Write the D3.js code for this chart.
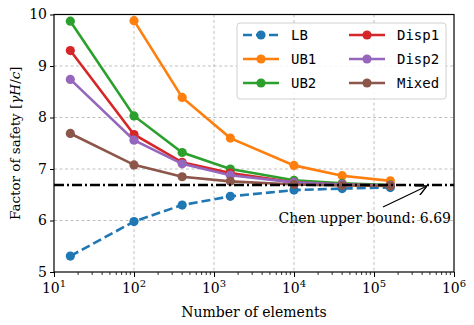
<!DOCTYPE html>
<html>
<head>
<meta charset="utf-8">
<script src="https://cdn.jsdelivr.net/npm/d3@7"></script>
<style>
  body { margin: 0; background: #fff; }
</style>
</head>
<body>
<div id="chart"></div>
<script>
// ___ DATA ___
const elements = [16, 100, 400, 1600, 10000, 40000, 160000]
const seriesNames = ["LB", "UB1", "UB2", "Disp1", "Disp2", "Mixed"]
const lbValues    = [5.31, 5.98, 6.30, 6.47, 6.59, 6.62, 6.64]
const ub1Values   = [null, 9.88, 8.39, 7.60, 7.07, 6.87, 6.77]
const ub2Values   = [9.87, 8.03, 7.32, 7.00, 6.78, 6.72, 6.69]
const disp1Values = [9.30, 7.67, 7.13, 6.92, 6.74, 6.70, 6.68]
const disp2Values = [8.74, 7.56, 7.10, 6.88, 6.74, 6.70, 6.68]
const mixedValues = [7.69, 7.08, 6.85, 6.76, 6.70, 6.68, 6.67]
const chenBound = 6.69
const yTicks = [5, 6, 7, 8, 9, 10]
const xTickExps = [1, 2, 3, 4, 5, 6]

const seriesValues = [lbValues, ub1Values, ub2Values, disp1Values, disp2Values, mixedValues]
const colors = ["#1f77b4", "#ff7f0e", "#2ca02c", "#d62728", "#9467bd", "#8c564b"]

const SERIF = '"DejaVu Serif", "Liberation Serif", serif'
const MONO = '"DejaVu Sans Mono", "Liberation Mono", monospace'

const W = 474, H = 325
const m = {left: 54, right: 20, top: 14.5, bottom: 53}

const svg = d3.select('#chart').append('svg')
    .attr('width', W)
    .attr('height', H)

const x = d3.scaleLog().domain([10, 1e6]).range([m.left, W - m.right])
const y = d3.scaleLinear().domain([5, 10]).range([H - m.bottom, m.top])

const defs = svg.append('defs')
defs.append('clipPath').attr('id', 'plotClip')
    .append('rect')
    .attr('x', m.left).attr('y', m.top)
    .attr('width', W - m.left - m.right)
    .attr('height', H - m.top - m.bottom)

// ___ GRID ___
const grid = svg.append('g').attr('class', 'grid')
grid.selectAll('line.gx')
    .data(xTickExps.slice(1, -1))
    .join('line')
    .attr('x1', d => x(Math.pow(10, d))).attr('x2', d => x(Math.pow(10, d)))
    .attr('y1', m.top).attr('y2', H - m.bottom)
    .attr('stroke', '#b0b0b0').attr('stroke-width', 0.8)
    .attr('stroke-dasharray', '3,2.5')
grid.selectAll('line.gy')
    .data(yTicks.slice(1, -1))
    .join('line')
    .attr('x1', m.left).attr('x2', W - m.right)
    .attr('y1', d => y(d)).attr('y2', d => y(d))
    .attr('stroke', '#b0b0b0').attr('stroke-width', 0.8)
    .attr('stroke-dasharray', '3,2.5')

// ___ AXES ___
const xAxis = svg.append('g')
    .attr('transform', `translate(0,${H - m.bottom})`)
    .call(d3.axisBottom(x).tickValues(xTickExps.map(e => Math.pow(10, e))).tickFormat('').tickSize(5))
const minor = []
for (let e = 1; e < 6; e++) for (let k = 2; k < 10; k++) minor.push(k * Math.pow(10, e))
xAxis.selectAll('line.minor')
    .data(minor)
    .join('line')
    .attr('class', 'minor')
    .attr('x1', d => x(d)).attr('x2', d => x(d))
    .attr('y1', 0).attr('y2', 3)
    .attr('stroke', '#000').attr('stroke-width', 0.8)
xAxis.select('.domain').remove()

const xl = svg.append('g')
xl.selectAll('text')
    .data(xTickExps)
    .join('text')
    .attr('x', d => x(Math.pow(10, d)))
    .attr('y', H - m.bottom + 21)
    .attr('text-anchor', 'middle')
    .style('font-family', SERIF)
    .style('font-size', '14px')
    .each(function (d) {
        const t = d3.select(this)
        t.append('tspan').text('10')
        t.append('tspan').attr('dy', -6).style('font-size', '10px').text(d)
    })

const yAxis = svg.append('g')
    .attr('transform', `translate(${m.left},0)`)
    .call(d3.axisLeft(y).tickValues(yTicks).tickFormat(d3.format('d')).tickSize(4).tickPadding(3))
yAxis.select('.domain').remove()
yAxis.selectAll('text')
    .style('font-size', '14px')
    .style('font-family', SERIF)
    .attr('fill', '#000')

svg.append('rect')
    .attr('x', m.left).attr('y', m.top)
    .attr('width', W - m.left - m.right)
    .attr('height', H - m.top - m.bottom)
    .attr('fill', 'none').attr('stroke', '#000').attr('stroke-width', 1.2)

// axis titles
svg.append('text')
    .attr('x', (m.left + W - m.right) / 2)
    .attr('y', H - 8)
    .attr('text-anchor', 'middle')
    .style('font-family', SERIF)
    .style('font-size', '14px')
    .text('Number of elements')

const yt = svg.append('text')
    .attr('transform', `translate(20,${(m.top + H - m.bottom) / 2}) rotate(-90)`)
    .attr('text-anchor', 'middle')
    .style('font-family', SERIF)
    .style('font-size', '13.5px')
yt.append('tspan').text('Factor of safety [')
yt.append('tspan').style('font-style', 'italic').text('γH')
yt.append('tspan').text('/')
yt.append('tspan').style('font-style', 'italic').text('c')
yt.append('tspan').text(']')

// ___ SERIES ___
const plot = svg.append('g').attr('clip-path', 'url(#plotClip)')
const line = d3.line()
    .defined(d => d[1] != null)
    .x(d => x(d[0]))
    .y(d => y(d[1]))

seriesValues.forEach((vals, i) => {
    const pts = elements.map((e, j) => [e, vals[j]])
    plot.append('path')
        .datum(pts)
        .attr('d', line)
        .attr('fill', 'none')
        .attr('stroke', colors[i])
        .attr('stroke-width', 2.6)
        .attr('stroke-dasharray', i === 0 ? '9,4' : null)
    plot.selectAll(null)
        .data(pts.filter(d => d[1] != null))
        .join('circle')
        .attr('cx', d => x(d[0]))
        .attr('cy', d => y(d[1]))
        .attr('r', 4.6)
        .attr('fill', colors[i])
})

// Chen bound
plot.append('line')
    .attr('x1', m.left).attr('x2', W - m.right)
    .attr('y1', y(chenBound)).attr('y2', y(chenBound))
    .attr('stroke', '#000').attr('stroke-width', 2.4)
    .attr('stroke-dasharray', '10,3,2,3')

// annotation
defs.append('marker')
    .attr('id', 'arrow')
    .attr('viewBox', '0 0 10 10')
    .attr('refX', 10).attr('refY', 5)
    .attr('markerWidth', 9).attr('markerHeight', 9)
    .attr('orient', 'auto')
    .append('path')
    .attr('d', 'M0,0L10,5L0,10')
    .attr('fill', 'none').attr('stroke', '#000').attr('stroke-width', 1.3)
svg.append('line')
    .attr('x1', 383).attr('y1', 207)
    .attr('x2', x(4.6e5)).attr('y2', y(chenBound) + 1)
    .attr('stroke', '#000').attr('stroke-width', 1.2)
    .attr('marker-end', 'url(#arrow)')
svg.append('text')
    .attr('x', 451).attr('y', 223)
    .attr('text-anchor', 'end')
    .style('font-family', SERIF)
    .style('font-size', '14px')
    .text(`Chen upper bound: ${chenBound}`)

// ___ LEGEND ___
const lg = svg.append('g').attr('transform', 'translate(237,23)')
lg.append('rect')
    .attr('width', 209).attr('height', 76)
    .attr('rx', 3)
    .attr('fill', '#fff').attr('fill-opacity', 0.85)
    .attr('stroke', '#d0d0d0').attr('stroke-width', 1)
seriesNames.forEach((name, i) => {
    const col = Math.floor(i / 3), row = i % 3
    const g = lg.append('g').attr('transform', `translate(${6 + col * 106},${12 + row * 24})`)
    g.append('line')
        .attr('x1', 0).attr('x2', 36)
        .attr('stroke', colors[i]).attr('stroke-width', 2.6)
        .attr('stroke-dasharray', i === 0 ? '9,4' : null)
    g.append('circle').attr('cx', 18).attr('r', 4.6).attr('fill', colors[i])
    g.append('text')
        .attr('x', 48).attr('y', 5)
        .style('font-family', MONO)
        .style('font-size', '14px')
        .text(name)
})
</script>
</body>
</html>
